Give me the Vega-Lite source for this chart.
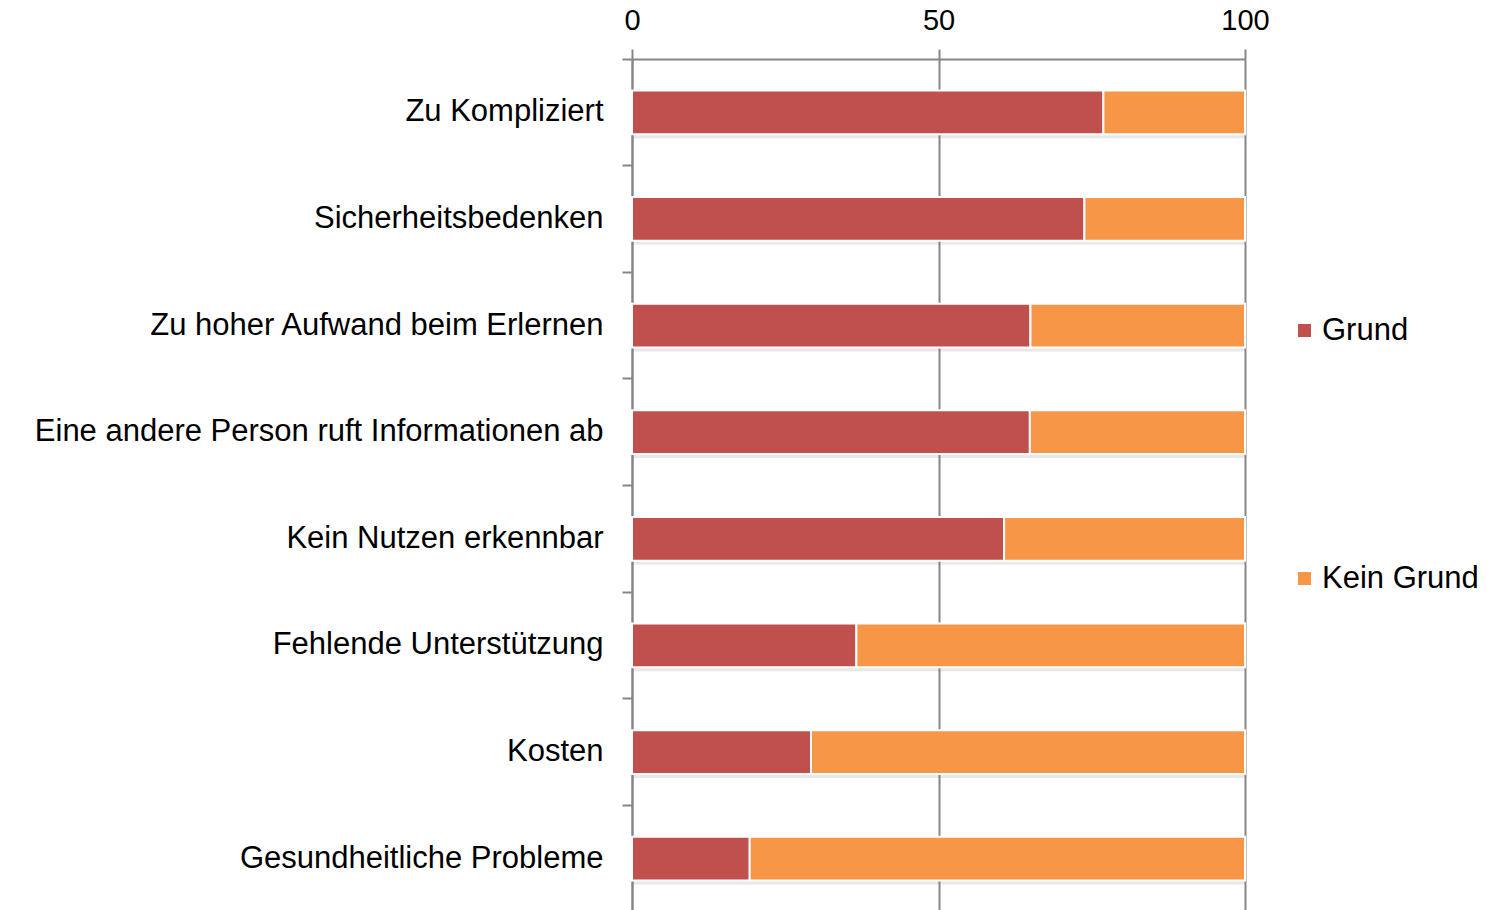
{
  "$schema": "https://vega.github.io/schema/vega-lite/v6.json",
  "autosize": {"type": "none"},
  "width": 613,
  "height": 853,
  "padding": {"left": 632, "top": 59, "right": 247, "bottom": 0},
  "background": "white",
  "config": {
    "font": "Liberation Sans",
    "view": {"stroke": null}
  },
  "data": {
    "values": [
      {"kategorie": "Zu Kompliziert", "antwort": "Grund", "wert": 76.9},
      {"kategorie": "Zu Kompliziert", "antwort": "Kein Grund", "wert": 23.1},
      {"kategorie": "Sicherheitsbedenken", "antwort": "Grund", "wert": 73.8},
      {"kategorie": "Sicherheitsbedenken", "antwort": "Kein Grund", "wert": 26.2},
      {"kategorie": "Zu hoher Aufwand beim Erlernen", "antwort": "Grund", "wert": 65.0},
      {"kategorie": "Zu hoher Aufwand beim Erlernen", "antwort": "Kein Grund", "wert": 35.0},
      {"kategorie": "Eine andere Person ruft Informationen ab", "antwort": "Grund", "wert": 64.9},
      {"kategorie": "Eine andere Person ruft Informationen ab", "antwort": "Kein Grund", "wert": 35.1},
      {"kategorie": "Kein Nutzen erkennbar", "antwort": "Grund", "wert": 60.7},
      {"kategorie": "Kein Nutzen erkennbar", "antwort": "Kein Grund", "wert": 39.3},
      {"kategorie": "Fehlende Unterstützung", "antwort": "Grund", "wert": 36.6},
      {"kategorie": "Fehlende Unterstützung", "antwort": "Kein Grund", "wert": 63.4},
      {"kategorie": "Kosten", "antwort": "Grund", "wert": 29.2},
      {"kategorie": "Kosten", "antwort": "Kein Grund", "wert": 70.8},
      {"kategorie": "Gesundheitliche Probleme", "antwort": "Grund", "wert": 19.2},
      {"kategorie": "Gesundheitliche Probleme", "antwort": "Kein Grund", "wert": 80.8}
    ]
  },
  "encoding": {
    "y": {
      "field": "kategorie",
      "type": "nominal",
      "sort": null,
      "scale": {"paddingInner": 0, "paddingOuter": 0},
      "axis": {
        "title": null,
        "orient": "left",
        "bandPosition": 0,
        "domainColor": "#868686",
        "domainWidth": 2,
        "tickColor": "#868686",
        "tickWidth": 2,
        "tickSize": 10,
        "labelFontSize": 31,
        "labelColor": "black",
        "labelPadding": 19,
        "labelLimit": 700
      }
    },
    "x": {
      "field": "wert",
      "type": "quantitative",
      "stack": "zero",
      "scale": {"domain": [0, 100], "nice": false},
      "axis": {
        "title": null,
        "orient": "top",
        "values": [0, 50, 100],
        "domain": true,
        "domainColor": "#868686",
        "domainWidth": 2,
        "tickColor": "#868686",
        "tickWidth": 2,
        "tickSize": 10,
        "grid": true,
        "gridColor": "#868686",
        "gridWidth": 2,
        "labelFontSize": 29,
        "labelColor": "black",
        "labelPadding": 14,
        "labelFlush": false
      }
    },
    "order": {"field": "antwort", "sort": "ascending"}
  },
  "layer": [
    {
      "mark": {"type": "bar", "color": "#7f7f7f", "opacity": 0.18, "yOffset": 4, "height": {"band": 0.41}}
    },
    {
      "mark": {"type": "bar", "stroke": "white", "strokeWidth": 2, "height": {"band": 0.41}},
      "encoding": {
        "color": {
          "field": "antwort",
          "type": "nominal",
          "scale": {"domain": ["Grund", "Kein Grund"], "range": ["#C0504D", "#F79646"]},
          "legend": {
            "title": null,
            "orient": "none",
            "legendX": 657,
            "legendY": 256,
            "symbolType": "square",
            "symbolSize": 170,
            "symbolStrokeWidth": 0,
            "labelFontSize": 31,
            "labelColor": "black",
            "labelOffset": 2,
            "rowPadding": 216
          }
        }
      }
    }
  ]
}
